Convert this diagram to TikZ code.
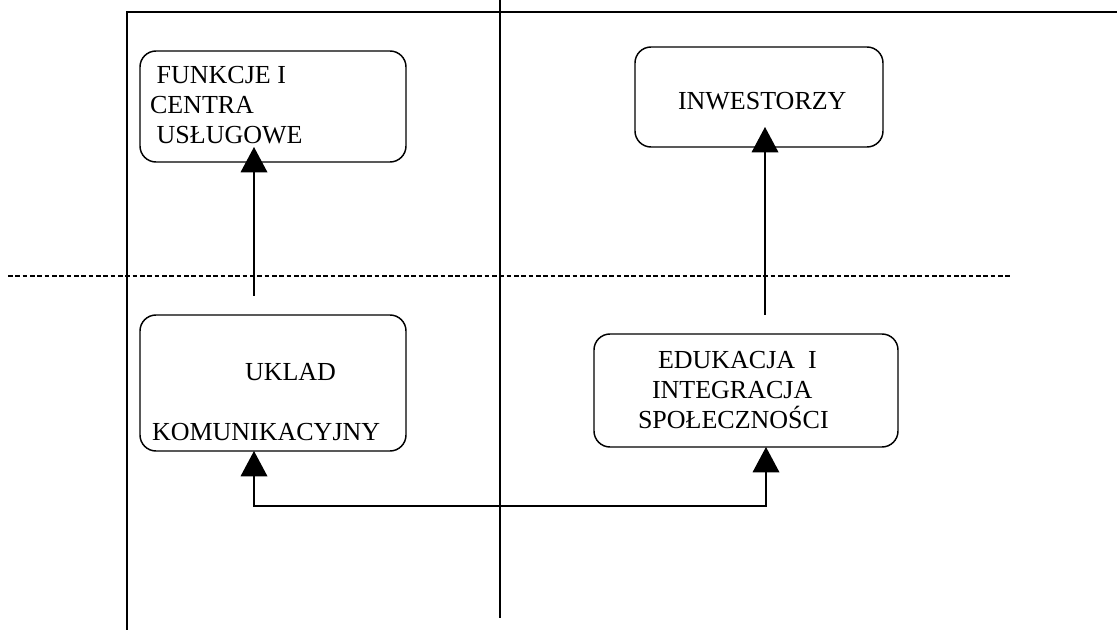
\documentclass[tikz,border=0pt]{standalone}
\usepackage{fontspec}
\setmainfont{Liberation Serif}
\usepackage{tikz}
\usetikzlibrary{arrows.meta}

\begin{document}
\begin{tikzpicture}[x=0.75pt,y=0.75pt,yscale=-1,xscale=1,
		every node/.style={font=\fontsize{19.5}{22.5}\selectfont, inner sep=0pt, outer sep=0pt},
		box/.style={draw, line width=1.1pt, rounded corners=12pt},
		conn/.style={line width=1pt, -{Triangle[length=19pt,width=20pt]}},
		conn2/.style={line width=1pt, {Triangle[length=19pt,width=20pt]}-{Triangle[length=19pt,width=20pt]}}]
		\useasboundingbox (0,0) rectangle (1117,630);
		
		% Frame
		\draw [line width=0.9pt] (127,630) -- (127,12) -- (1117,12) ;
		\draw [line width=1.5pt] (500,0) -- (500,618) ;
		\draw [line width=1.4pt, dash pattern=on 3.5pt off 2pt] (8,276) -- (1012,276) ;
		
		%Shape: Rounded Rect
		\node [box, minimum width=199.5pt, minimum height=83.25pt] (funkcje) at (273,106.5) {};
		%Shape: Rounded Rect
		\node [box, minimum width=186pt, minimum height=75pt] (inwestorzy) at (759,97) {};
		%Shape: Rounded Rect
		\node [box, minimum width=199.5pt, minimum height=102pt] (uklad) at (273,383) {};
		%Shape: Rounded Rect
		\node [box, minimum width=228pt, minimum height=84.75pt] (edukacja) at (746,390.5) {};
		
		% Text Node
		\node [anchor=north west, align=left] (tFunkcje) at (150,66) {\hspace*{5pt}FUNKCJE I\\CENTRA\\\hspace*{5pt}USŁUGOWE};
		% Text Node
		\node [anchor=base west] (tInwestorzy) at (678,110) {INWESTORZY};
		% Text Node
		\node [anchor=north west, align=left] (tUklad) at (152,363) {\hspace*{69.75pt}UKLAD\\[22.5pt]KOMUNIKACYJNY};
		% Text Node
		\node [anchor=north west, align=left] (tEdukacja) at (638,351) {\hspace*{15pt}EDUKACJA \ I\\\hspace*{10.5pt}INTEGRACJA\\SPOŁECZNOŚCI};
		
		\coordinate (startL) at (254,296);
		\coordinate (startP) at (765,315);
		\coordinate (dolL) at (254,506);
		\coordinate (dolP) at (766,506);
		
		% Connection
		\draw [conn, shorten >=-11.25pt] (startL) -- (startL |- funkcje.south) ;
		% Connection
		\draw [conn, shorten >=-15pt] (startP) -- (startP |- inwestorzy.south) ;
		% Connection
		\draw [conn2] (dolL |- uklad.south) -- (dolL) -- (dolP) -- (dolP |- edukacja.south) ;
\end{tikzpicture}
\end{document}
